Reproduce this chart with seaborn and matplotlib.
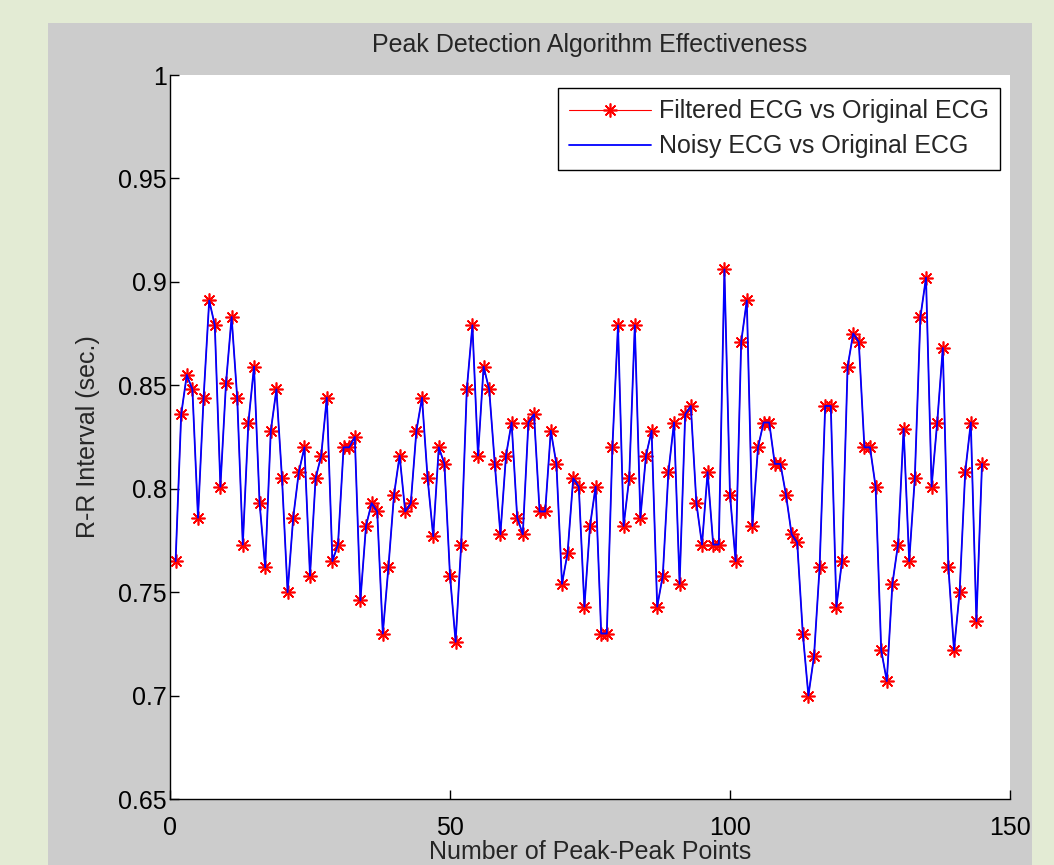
import numpy as np
import pandas as pd
import matplotlib
matplotlib.use("Agg")
import matplotlib.pyplot as plt
from matplotlib.patches import Rectangle
import seaborn as sns

# R-R intervals (sec.), one per peak-peak point
rr_filtered = [0.765, 0.836, 0.855, 0.848, 0.786, 0.844, 0.891, 0.879, 0.801, 0.851,
               0.883, 0.844, 0.773, 0.832, 0.859, 0.793, 0.762, 0.828, 0.848, 0.805,
               0.750, 0.786, 0.808, 0.820, 0.758, 0.805, 0.816, 0.844, 0.765, 0.773,
               0.820, 0.820, 0.825, 0.746, 0.782, 0.793, 0.789, 0.730, 0.762, 0.797,
               0.816, 0.789, 0.793, 0.828, 0.844, 0.805, 0.777, 0.820, 0.812, 0.758,
               0.726, 0.773, 0.848, 0.879, 0.816, 0.859, 0.848, 0.812, 0.778, 0.816,
               0.832, 0.786, 0.778, 0.832, 0.836, 0.789, 0.789, 0.828, 0.812, 0.754,
               0.769, 0.805, 0.801, 0.743, 0.782, 0.801, 0.730, 0.730, 0.820, 0.879,
               0.782, 0.805, 0.879, 0.786, 0.816, 0.828, 0.743, 0.758, 0.808, 0.832,
               0.754, 0.836, 0.840, 0.793, 0.773, 0.808, 0.773, 0.773, 0.906, 0.797,
               0.765, 0.871, 0.891, 0.782, 0.820, 0.832, 0.832, 0.812, 0.812, 0.797,
               0.778, 0.774, 0.730, 0.700, 0.719, 0.762, 0.840, 0.840, 0.743, 0.765,
               0.859, 0.875, 0.871, 0.820, 0.820, 0.801, 0.722, 0.707, 0.754, 0.773,
               0.829, 0.765, 0.805, 0.883, 0.902, 0.801, 0.832, 0.868, 0.762, 0.722,
               0.750, 0.808, 0.832, 0.736, 0.812]
# the blue trace lies exactly on the red one in the picture
rr_noisy = list(rr_filtered)
peak_points = np.arange(1, len(rr_filtered) + 1)

x_ticks = [0, 50, 100, 150]
y_ticks = [0.65, 0.7, 0.75, 0.8, 0.85, 0.9, 0.95, 1.0]
y_tick_labels = ["0.65", "0.7", "0.75", "0.8", "0.85", "0.9", "0.95", "1"]

df = pd.DataFrame({"point": peak_points, "filtered": rr_filtered, "noisy": rr_noisy})

sns.set_style("ticks")
plt.rcParams["font.family"] = ["Liberation Sans", "DejaVu Sans"]
plt.rcParams["font.size"] = 18

W, H = 1054, 865
fig = plt.figure(figsize=(W / 100, H / 100), dpi=100, facecolor="#e3ebd4")
# matlab style grey figure panel
fig.patches.append(Rectangle((48 / W, 0), (1032 - 48) / W, (H - 23) / H,
                             transform=fig.transFigure, facecolor="#cccccc",
                             edgecolor="none", zorder=-10))
ax = fig.add_axes([170 / W, (H - 799) / H, 840 / W, 724 / H])
ax.set_facecolor("white")

sns.lineplot(data=df, x="point", y="filtered", ax=ax, color="red", linewidth=0.8,
             marker=(8, 2, 0), markersize=10, markeredgecolor="red", markeredgewidth=1.2,
             sort=False, estimator=None, label="Filtered ECG vs Original ECG")
sns.lineplot(data=df, x="point", y="noisy", ax=ax, color="blue", linewidth=1.3,
             sort=False, estimator=None, label="Noisy ECG vs Original ECG")

ax.set_xlim(0, 150)
ax.set_ylim(0.65, 1.0)
ax.set_xticks(x_ticks)
ax.set_xticklabels([str(t) for t in x_ticks])
ax.set_yticks(y_ticks)
ax.set_yticklabels(y_tick_labels)
ax.tick_params(direction="in", length=6.5, width=1, labelsize=18, colors="black")
ax.tick_params(axis="x", pad=12)
ax.tick_params(axis="y", pad=2.5)
for s in ["top", "right"]:
    ax.spines[s].set_visible(False)
for s in ["left", "bottom"]:
    ax.spines[s].set_color("black")
    ax.spines[s].set_linewidth(1)

ax.set_title("Peak Detection Algorithm Effectiveness", fontsize=18, pad=16.5)
ax.set_xlabel("Number of Peak-Peak Points", fontsize=18)
ax.set_ylabel("R-R Interval (sec.)", fontsize=18)
ax.xaxis.set_label_coords(0.5, -0.056)
ax.yaxis.set_label_coords(-0.083, 0.5)

leg = ax.legend(loc="upper right", bbox_to_anchor=((1000 - 170) / 840, (799 - 88) / 724),
                borderaxespad=0, fontsize=18, frameon=True, fancybox=False,
                framealpha=1, edgecolor="black", handlelength=3.3,
                handletextpad=0.3, borderpad=0.45, labelspacing=0.45)
leg.get_frame().set_linewidth(1)

fig.savefig("out.png", dpi=100, facecolor=fig.get_facecolor())
